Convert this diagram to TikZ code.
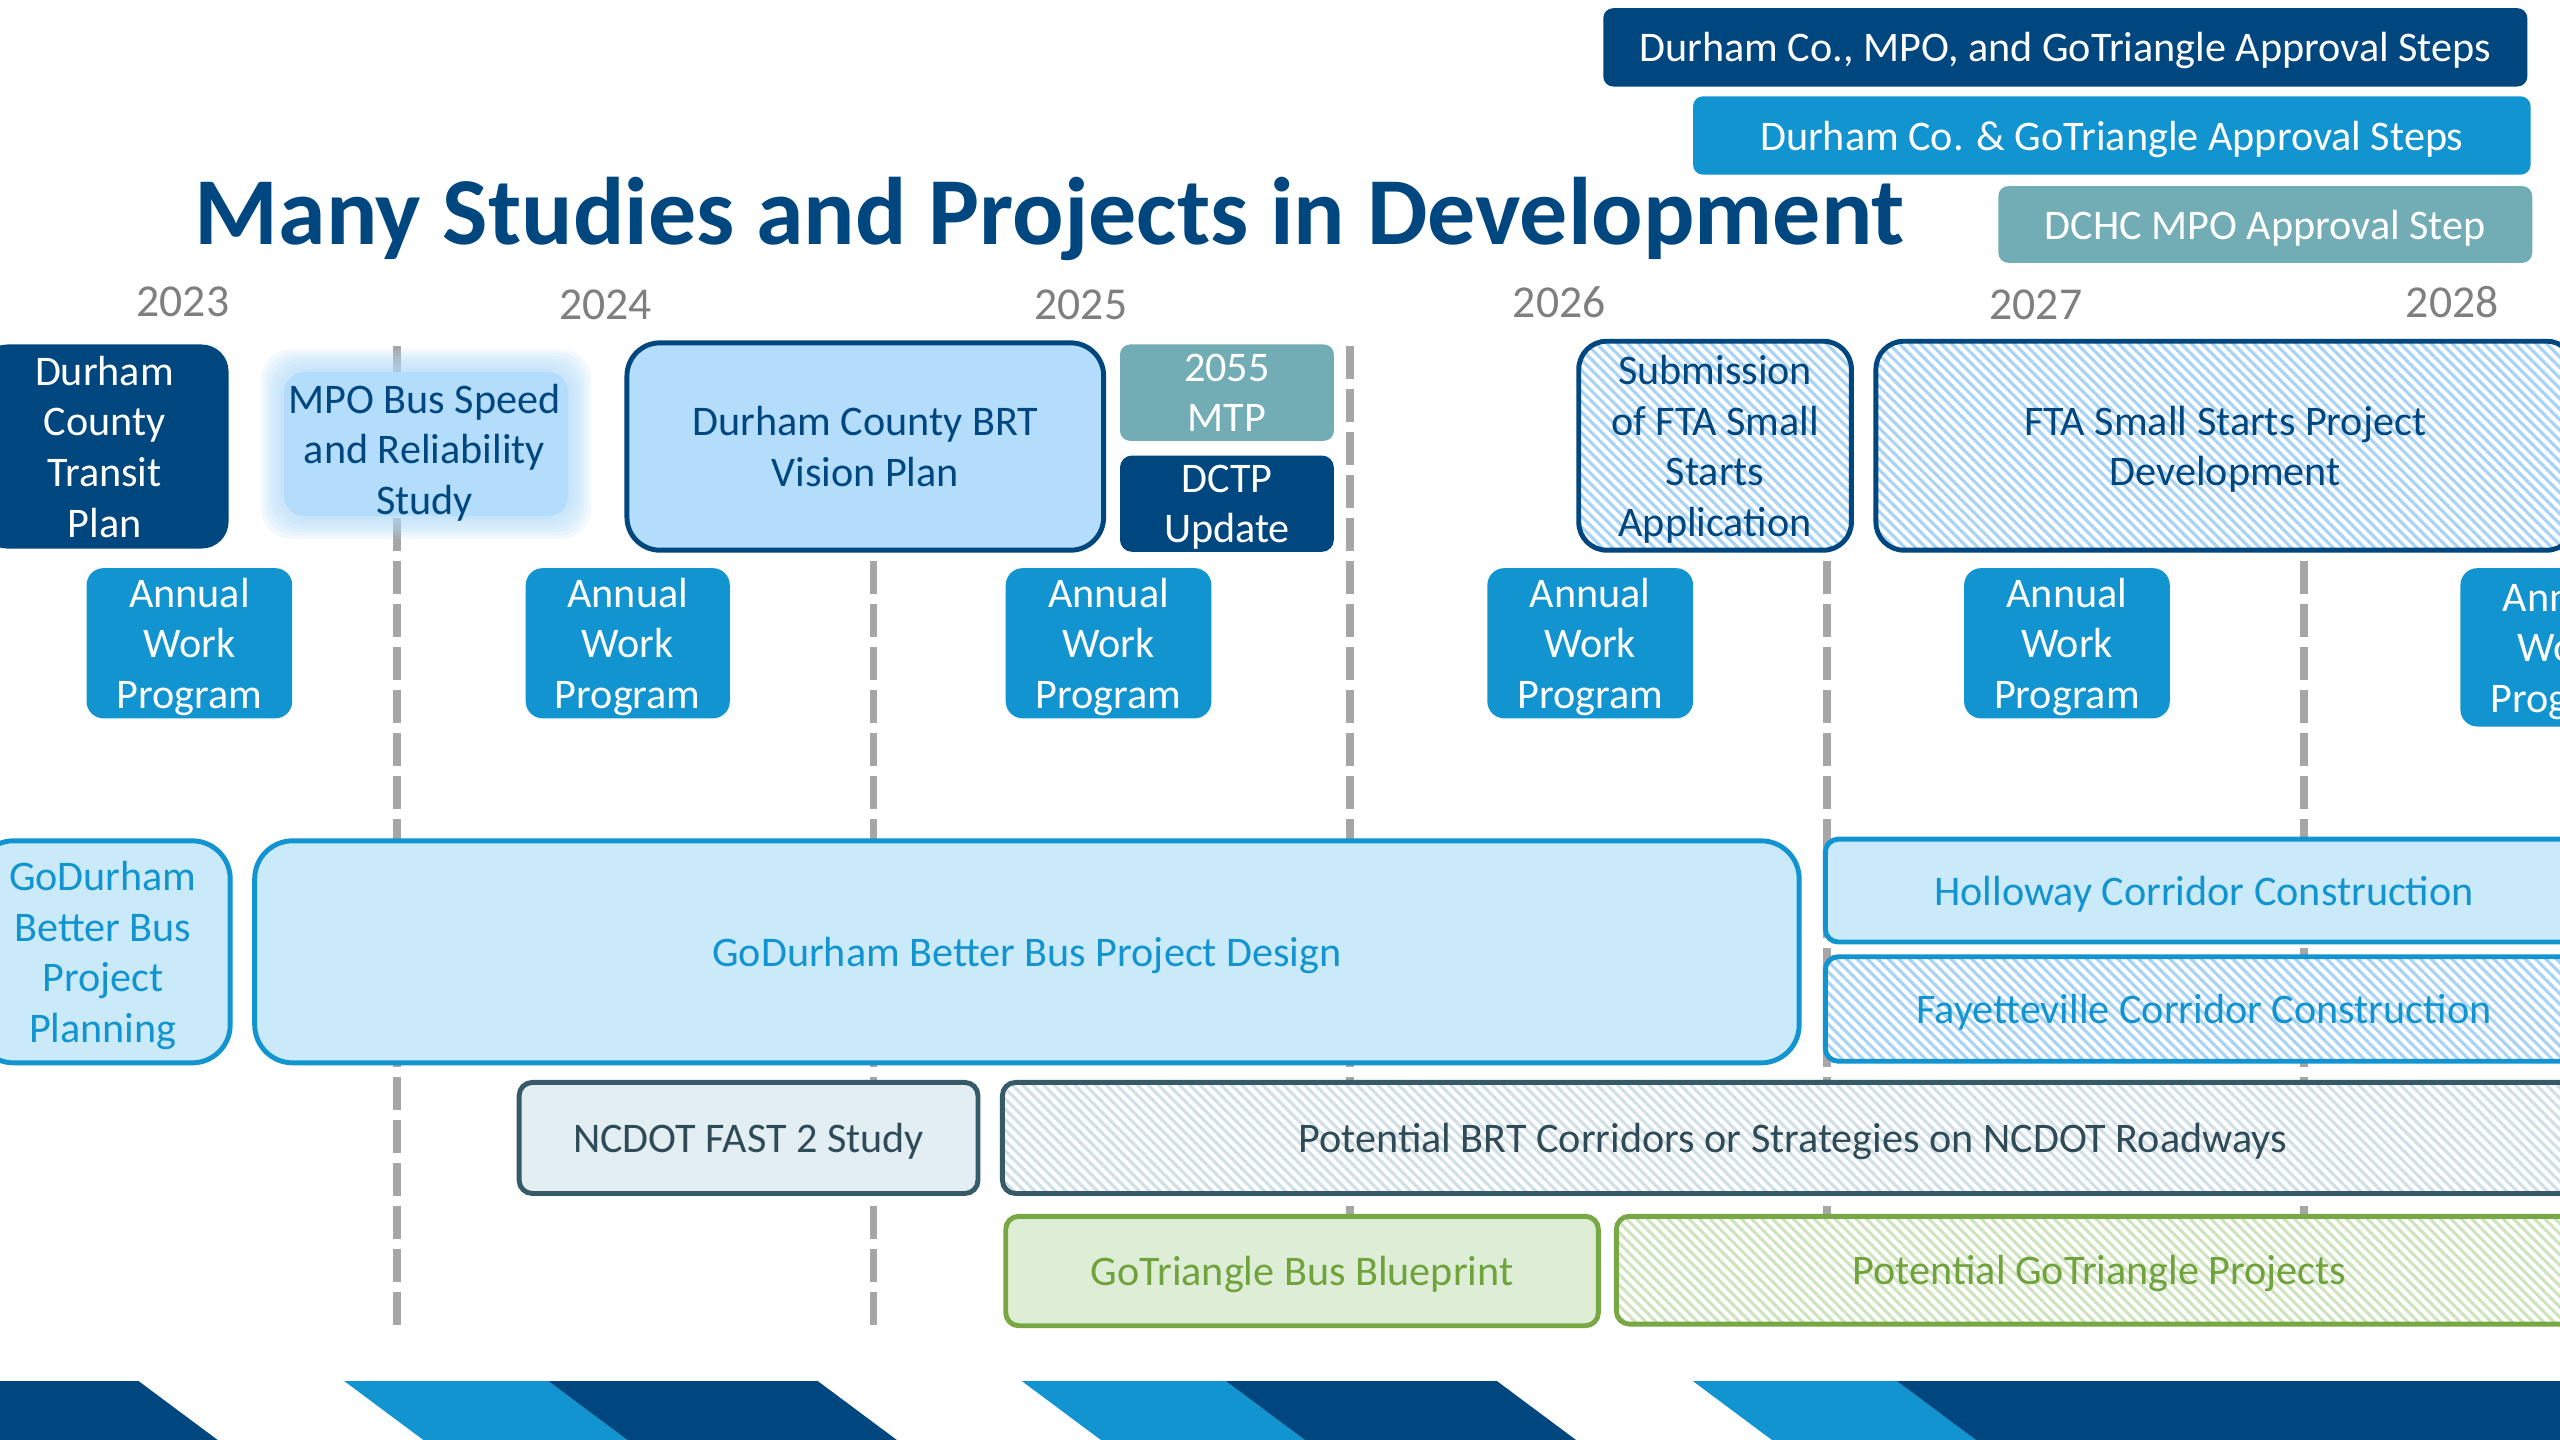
\documentclass[tikz,border=0pt]{standalone}
\usepackage{fontspec}
\setmainfont{Carlito}
\usetikzlibrary{patterns.meta}
\definecolor{darkblue}{RGB}{0,70,127}
\definecolor{medblue}{RGB}{17,148,208}
\definecolor{tealc}{RGB}{114,173,182}
\definecolor{lightblue}{RGB}{179,221,250}
\definecolor{palefill}{RGB}{202,234,250}
\definecolor{hatchblue}{RGB}{168,211,244}
\definecolor{slateb}{RGB}{55,90,105}
\definecolor{slatefill}{RGB}{226,238,242}
\definecolor{slatetext}{RGB}{47,75,88}
\definecolor{hatchgray}{RGB}{208,224,230}
\definecolor{greenb}{RGB}{119,168,68}
\definecolor{greenfill}{RGB}{221,237,214}
\definecolor{greentext}{RGB}{112,163,60}
\definecolor{hatchgreen}{RGB}{205,228,190}
\definecolor{dashgray}{RGB}{166,166,166}
\definecolor{yeargray}{RGB}{127,127,127}
\newcommand\bx[7]{\node[#2, minimum width={((#5)-(#3))*0.016327cm}, minimum height={((#6)-(#4))*0.016327cm}] (#1) at ({((#3)+(#5))/2},{((#4)+(#6))/2}) {#7};}
\begin{document}
\begin{tikzpicture}[x=0.016327cm,y=-0.016327cm,
  base/.style={inner sep=0pt, align=center, text depth=0pt, font=\fontsize{12}{14.4}\selectfont, line width=1.4pt},
  awp/.style={base, fill=medblue, text=white, rounded corners=0.17cm},
  darkbox/.style={base, fill=darkblue, text=white},
  tealbox/.style={base, fill=tealc, text=white, rounded corners=0.1cm},
  visionbox/.style={base, fill=lightblue, draw=darkblue, text=darkblue, rounded corners=0.33cm},
  hatchbox/.style={base, preaction={fill=white}, pattern={Lines[angle=-45,distance=2.1pt,line width=0.9pt]}, pattern color=hatchblue, draw=darkblue, text=darkblue, rounded corners=0.28cm},
  godurham/.style={base, fill=palefill, draw=medblue, text=medblue, rounded corners=0.38cm},
  hatchfay/.style={base, preaction={fill=white}, pattern={Lines[angle=-45,distance=2.1pt,line width=0.9pt]}, pattern color=hatchblue, draw=medblue, text=medblue, rounded corners=0.13cm},
  slatebox/.style={base, fill=slatefill, draw=slateb, text=slatetext, rounded corners=0.13cm},
  slatehatch/.style={base, preaction={fill=white}, pattern={Lines[angle=-45,distance=2.1pt,line width=0.9pt]}, pattern color=hatchgray, draw=slateb, text=slatetext, rounded corners=0.13cm},
  greenbox/.style={base, fill=greenfill, draw=greenb, text=greentext, rounded corners=0.13cm},
  greenhatch/.style={base, preaction={fill=white}, pattern={Lines[angle=-45,distance=2.1pt,line width=0.9pt]}, pattern color=hatchgreen, draw=greenb, text=greentext, rounded corners=0.13cm},
  legdark/.style={base, fill=darkblue, text=white, rounded corners=0.1cm},
  legmed/.style={base, fill=medblue, text=white, rounded corners=0.1cm},
  legteal/.style={base, fill=tealc, text=white, rounded corners=0.1cm},
  year/.style={inner sep=0pt, font=\fontsize{13}{15}\selectfont, text=yeargray},
  yearline/.style={draw=dashgray, line width=2.2pt, dash pattern=on 0.33cm off 0.1cm},
  stripdark/.style={fill=darkblue},
  stripmed/.style={fill=medblue}]
\useasboundingbox (0,0) rectangle (1568,882);
\clip (0,0) rectangle (1568,882);
\fill[white] (0,0) rectangle (1568,882);
% year dividers
\foreach \xx in {243,535,827,1119,1411} {\draw[yearline] (\xx,212) -- (\xx,812);}
% legend
\bx{leg1}{legdark}{982}{5}{1548}{53}{Durham Co., MPO, and GoTriangle Approval Steps}
\bx{leg2}{legmed}{1037}{59}{1550}{107}{Durham Co. \& GoTriangle Approval Steps}
\bx{leg3}{legteal}{1224}{114}{1551}{161}{DCHC MPO Approval Step}
% title
\node[inner sep=0pt, font=\fontsize{27.3}{32}\selectfont\bfseries, text=darkblue] (title) at (643,134) {Many Studies and Projects in Development};
% years
\node[year] (y2023) at (112,185) {2023};
\node[year] (y2024) at (371,187) {2024};
\node[year] (y2025) at (662,187) {2025};
\node[year] (y2026) at (955,185) {2026};
\node[year] (y2027) at (1247,187) {2027};
\node[year] (y2028) at (1502,185) {2028};
% row 1
\bx{dctp}{darkbox, rounded corners=0.27cm}{-12}{211}{140}{336}{Durham\\County\\Transit\\Plan}
\foreach \k in {7,6,5,4,3,2,1} {\fill[lightblue, opacity=0.16, rounded corners=0.3cm] ({174-2*\k},{228-2*\k}) rectangle ({348+2*\k},{316+2*\k});}
\fill[lightblue, rounded corners=0.2cm] (174,228) rectangle (348,316);
\node[base, text=darkblue] (mpo) at (260,275) {MPO Bus Speed\\and Reliability\\Study};
\bx{vision}{visionbox}{384}{210}{676}{337}{Durham County BRT\\Vision Plan}
\bx{mtp}{tealbox}{686}{211}{817}{270}{2055\\MTP}
\bx{dctpu}{darkbox, rounded corners=0.12cm}{686}{279}{817}{338}{DCTP\\Update}
\bx{subm}{hatchbox}{967}{209}{1134}{337}{Submission\\of FTA Small\\Starts\\Application}
\bx{fta}{hatchbox}{1149}{209}{1577}{337}{FTA Small Starts Project\\Development}
% row 2
\bx{awp1}{awp}{53}{348}{179}{440}{Annual\\Work\\Program}
\bx{awp2}{awp}{322}{348}{447}{440}{Annual\\Work\\Program}
\bx{awp3}{awp}{616}{348}{742}{440}{Annual\\Work\\Program}
\bx{awp4}{awp}{911}{348}{1037}{440}{Annual\\Work\\Program}
\bx{awp5}{awp}{1203}{348}{1329}{440}{Annual\\Work\\Program}
\bx{awp6}{awp}{1507}{348}{1633}{445}{Annual\\Work\\Program}
% row 3
\bx{gdp}{godurham}{-15}{515}{141}{651}{GoDurham\\Better Bus\\Project\\Planning}
\bx{gdd}{godurham}{156}{515}{1102}{651}{GoDurham Better Bus Project Design}
\bx{hol}{godurham, rounded corners=0.13cm}{1118}{514}{1582}{577}{Holloway Corridor Construction}
\bx{fay}{hatchfay}{1118}{586}{1582}{650}{Fayetteville Corridor Construction}
% row 4
\bx{fast}{slatebox}{318}{663}{599}{731}{NCDOT FAST 2 Study}
\bx{pbrt}{slatehatch}{614}{663}{1582}{731}{Potential BRT Corridors or Strategies on NCDOT Roadways}
% row 5
\bx{gtbb}{greenbox}{616}{745}{979}{812}{GoTriangle Bus Blueprint}
\bx{pgt}{greenhatch}{990}{745}{1582}{811}{Potential GoTriangle Projects}
% bottom stripes
\fill[stripdark] (-2,846) -- (85,846) -- (136,884) -- (-2,884) -- cycle;
\fill[stripmed] (211,846) -- (336,846) -- (387,884) -- (262,884) -- cycle;
\fill[stripdark] (336,846) -- (501,846) -- (552,884) -- (387,884) -- cycle;
\fill[stripmed] (626,846) -- (751,846) -- (802,884) -- (677,884) -- cycle;
\fill[stripdark] (751,846) -- (917,846) -- (968,884) -- (802,884) -- cycle;
\fill[stripmed] (1037,846) -- (1162,846) -- (1213,884) -- (1088,884) -- cycle;
\fill[stripdark] (1162,846) -- (1570,846) -- (1570,884) -- (1213,884) -- cycle;
\end{tikzpicture}
\end{document}
